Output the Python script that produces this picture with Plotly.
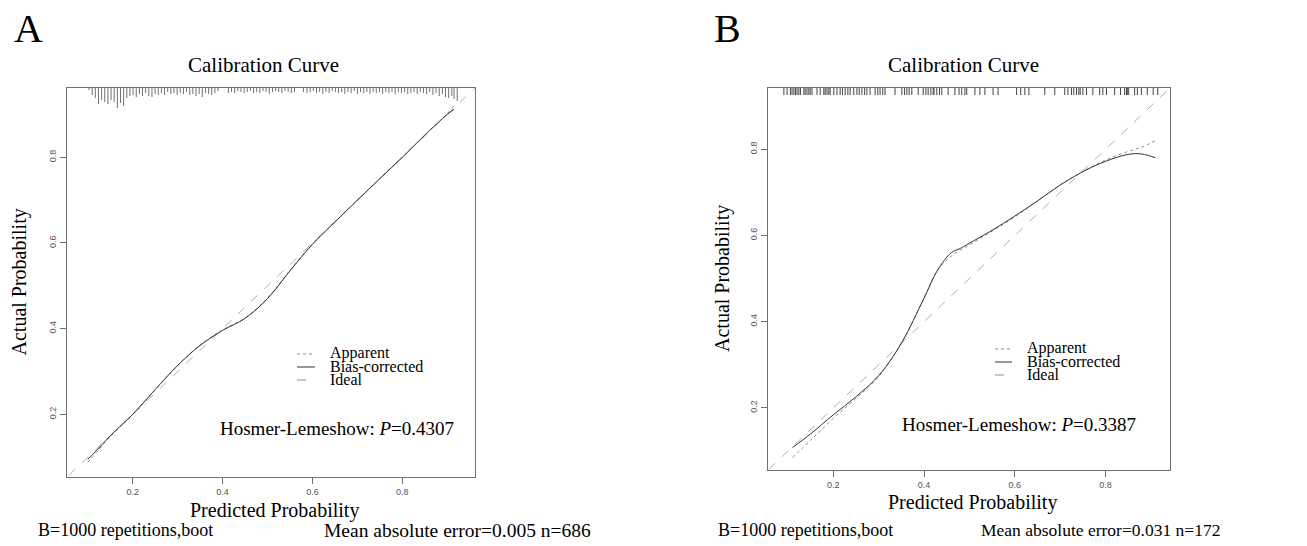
import plotly.graph_objects as go

W, H = 1307, 546

# ---------------- Panel A data ----------------
a_x = [0.10, 0.12, 0.15, 0.20, 0.25, 0.30, 0.35, 0.40, 0.45, 0.50, 0.55, 0.60, 0.65, 0.70, 0.75, 0.80, 0.85, 0.90, 0.915]
a_bias = [0.095, 0.116, 0.150, 0.200, 0.258, 0.314, 0.361, 0.396, 0.424, 0.470, 0.535, 0.597, 0.649, 0.700, 0.750, 0.800, 0.852, 0.900, 0.912]
a_app = [0.088, 0.112, 0.148, 0.199, 0.257, 0.314, 0.362, 0.397, 0.425, 0.472, 0.536, 0.598, 0.649, 0.700, 0.751, 0.800, 0.851, 0.902, 0.920]

a_rug_x = [0.103, 0.110, 0.117, 0.124, 0.131, 0.138, 0.145, 0.152, 0.159, 0.166, 0.173, 0.180, 0.187, 0.194,
           0.201, 0.208, 0.215, 0.222, 0.229, 0.236, 0.243, 0.250, 0.257, 0.264, 0.271, 0.278, 0.285, 0.292,
           0.299, 0.306, 0.313, 0.320, 0.327, 0.334, 0.341, 0.348, 0.355, 0.362, 0.369, 0.376, 0.383, 0.390,
           0.413, 0.420, 0.427, 0.434, 0.441, 0.448, 0.455, 0.462, 0.469, 0.476, 0.483, 0.490, 0.497, 0.504,
           0.511, 0.518, 0.525, 0.532, 0.539, 0.546, 0.553, 0.560, 0.580, 0.588, 0.595, 0.602, 0.609, 0.616,
           0.623, 0.630, 0.637, 0.644, 0.651, 0.658, 0.665, 0.672, 0.679, 0.686, 0.693, 0.700, 0.707, 0.714,
           0.721, 0.728, 0.735, 0.742, 0.749, 0.756, 0.763, 0.770, 0.777, 0.784, 0.791, 0.798, 0.805, 0.812,
           0.819, 0.826, 0.833, 0.840, 0.847, 0.854, 0.861, 0.868, 0.875, 0.882, 0.889, 0.896, 0.903, 0.910,
           0.915, 0.922]
a_rug_n = [2, 7, 10, 16, 12, 14, 16, 12, 14, 20, 15, 18, 10, 8,
           7, 9, 6, 8, 5, 8, 9, 6, 7, 5, 7, 4, 6, 5,
           7, 5, 6, 4, 7, 6, 8, 6, 9, 5, 6, 7, 5, 3,
           5, 4, 5, 3, 4, 5, 4, 3, 5, 4, 5, 3, 4, 6,
           4, 3, 4, 5, 3, 4, 5, 4, 4, 5, 4, 3, 5, 4,
           6, 4, 5, 3, 4, 5, 4, 6, 4, 5, 3, 6, 4, 5,
           4, 6, 4, 5, 4, 6, 4, 5, 4, 6, 4, 5, 4, 6,
           5, 4, 6, 4, 5, 6, 4, 7, 5, 8, 6, 9, 10, 8,
           11, 13]

# ---------------- Panel B data ----------------
b_x = [0.11, 0.15, 0.20, 0.25, 0.30, 0.35, 0.40, 0.43, 0.46, 0.48, 0.50, 0.55, 0.60, 0.65, 0.70, 0.75, 0.80, 0.85, 0.88, 0.91]
b_bias = [0.108, 0.140, 0.184, 0.226, 0.275, 0.350, 0.455, 0.520, 0.560, 0.570, 0.582, 0.612, 0.645, 0.680, 0.717, 0.748, 0.772, 0.788, 0.789, 0.780]
b_app = [0.085, 0.125, 0.176, 0.222, 0.273, 0.350, 0.455, 0.520, 0.552, 0.566, 0.578, 0.610, 0.643, 0.680, 0.717, 0.748, 0.775, 0.795, 0.805, 0.820]

b_rug_x = [0.091, 0.098, 0.1055, 0.109, 0.113, 0.1165, 0.120, 0.124, 0.1275, 0.135, 0.138, 0.142, 0.146, 0.149,
           0.153, 0.164, 0.171, 0.179, 0.182, 0.186, 0.190, 0.193, 0.201, 0.208, 0.215, 0.220, 0.226, 0.232,
           0.237, 0.245, 0.252, 0.257, 0.263, 0.269, 0.274, 0.281, 0.292, 0.298, 0.303, 0.309, 0.314, 0.336,
           0.351, 0.357, 0.362, 0.367, 0.373, 0.387, 0.398, 0.404, 0.409, 0.415, 0.420, 0.422, 0.428, 0.434,
           0.439, 0.453, 0.468, 0.477, 0.483, 0.490, 0.494, 0.512, 0.523, 0.534, 0.552, 0.563, 0.604, 0.613,
           0.622, 0.631, 0.666, 0.688, 0.710, 0.717, 0.725, 0.730, 0.736, 0.741, 0.744, 0.750, 0.758, 0.772,
           0.787, 0.794, 0.802, 0.820, 0.833, 0.842, 0.846, 0.848, 0.851, 0.864, 0.870, 0.879, 0.892, 0.905,
           0.915]

tick_vals = [0.2, 0.4, 0.6, 0.8]
tick_text = ["0.2", "0.4", "0.6", "0.8"]
ideal = [0.0, 1.0]

SERIF = "Liberation Serif"
SANS = "Liberation Sans"

# pixel layout
boxA = dict(l=67, r=475, t=88, b=477)
boxB = dict(l=768, r=1170, t=88, b=470)
rangeA = [0.054, 0.9616]
rangeB = [0.056, 0.942]


def fx(p):
    return p / W


def fy(p):
    return 1 - p / H


def rug(xs, ns, top, unit):
    X, Y = [], []
    for x, n in zip(xs, ns):
        X += [x, x, None]
        Y += [top, top - n * unit, None]
    return X, Y


fig = go.Figure()

# Panel A
rx, ry = rug(a_rug_x, a_rug_n, rangeA[1], 1 / 428.5)
fig.add_trace(go.Scatter(x=rx, y=ry, mode="lines", line=dict(color="#707070", width=1), xaxis="x", yaxis="y", showlegend=False, hoverinfo="skip"))
fig.add_trace(go.Scatter(x=ideal, y=ideal, mode="lines", line=dict(color="#b0b0b0", width=1, dash="dash"), xaxis="x", yaxis="y", showlegend=False))
fig.add_trace(go.Scatter(x=a_x, y=a_app, mode="lines", line=dict(color="#8a8a8a", width=1, dash="dot", shape="spline"), xaxis="x", yaxis="y", showlegend=False))
fig.add_trace(go.Scatter(x=a_x, y=a_bias, mode="lines", line=dict(color="#333", width=1, shape="spline"), xaxis="x", yaxis="y", showlegend=False))

# Panel B
b_rug_n = [7] * len(b_rug_x)
rx, ry = rug(b_rug_x, b_rug_n, rangeB[1], 1 / 430)
fig.add_trace(go.Scatter(x=rx, y=ry, mode="lines", line=dict(color="#444", width=1), xaxis="x2", yaxis="y2", showlegend=False, hoverinfo="skip"))
fig.add_trace(go.Scatter(x=ideal, y=ideal, mode="lines", line=dict(color="#b0b0b0", width=1, dash="dash"), xaxis="x2", yaxis="y2", showlegend=False))
fig.add_trace(go.Scatter(x=b_x, y=b_app, mode="lines", line=dict(color="#8a8a8a", width=1, dash="dot", shape="spline"), xaxis="x2", yaxis="y2", showlegend=False))
fig.add_trace(go.Scatter(x=b_x, y=b_bias, mode="lines", line=dict(color="#333", width=1, shape="spline"), xaxis="x2", yaxis="y2", showlegend=False))

axis_common = dict(showline=True, mirror=True, linecolor="#707070", linewidth=1, showgrid=False, zeroline=False,
                   ticks="outside", ticklen=6, tickcolor="#707070", tickvals=tick_vals, ticktext=tick_text,
                   tickfont=dict(family=SANS, size=9, color="#555"))

fig.update_layout(
    width=W, height=H, autosize=False,
    margin=dict(l=0, r=0, t=0, b=0),
    paper_bgcolor="white", plot_bgcolor="white",
    xaxis=dict(domain=[fx(boxA["l"]), fx(boxA["r"])], range=rangeA, anchor="y", **axis_common),
    yaxis=dict(domain=[fy(boxA["b"]), fy(boxA["t"])], range=rangeA, anchor="x", tickangle=-90, **axis_common),
    xaxis2=dict(domain=[fx(boxB["l"]), fx(boxB["r"])], range=rangeB, anchor="y2", **axis_common),
    yaxis2=dict(domain=[fy(boxB["b"]), fy(boxB["t"])], range=rangeB, anchor="x2", tickangle=-90, **axis_common),
)

ann = []
shapes = []


def text(s, x, y, size, xanchor="center", yanchor="middle", angle=0):
    ann.append(dict(text=s, x=fx(x), y=fy(y), xref="paper", yref="paper", showarrow=False,
                    xanchor=xanchor, yanchor=yanchor, textangle=angle,
                    font=dict(family=SERIF, size=size, color="black")))


panels = [
    dict(letter="A", box=boxA, lx=12, tdx=-8, hl="Hosmer-Lemeshow: <i>P</i>=0.4307", hlx=337, hly=428,
         leg_line_x=(297, 315), leg_text_x=328, leg_y=(353, 366, 379), ylabx=19,
         bot_l=36, bot_r=322, bot_size=18, mae="Mean absolute error=0.005 n=686", mae_size=19.5),
    dict(letter="B", box=boxB, lx=712, tdx=-6, hl="Hosmer-Lemeshow: <i>P</i>=0.3387", hlx=1019, hly=424,
         leg_line_x=(995, 1012), leg_text_x=1025, leg_y=(348, 361, 374), ylabx=722,
         bot_l=716, bot_r=979, bot_size=18, mae="Mean absolute error=0.031 n=172", mae_size=17.5),
]

for p in panels:
    b = p["box"]
    cx = (b["l"] + b["r"]) / 2
    cy = (b["t"] + b["b"]) / 2
    text(p["letter"], p["lx"], 53, 40, xanchor="left", yanchor="bottom")
    text("Calibration Curve", cx + p["tdx"], 65, 21)
    text("Actual Probability", p["ylabx"], cy, 20, angle=-90)
    text("Predicted Probability", cx + 3, b["b"] + 33, 20)
    text("B=1000 repetitions,boot", p["bot_l"], 530, p["bot_size"], xanchor="left")
    text(p["mae"], p["bot_r"], 530, p["mae_size"], xanchor="left")
    text(p["hl"], p["hlx"], p["hly"], 19)
    labels = ["Apparent", "Bias-corrected", "Ideal"]
    styles = [dict(color="#8a8a8a", dash="dot"), dict(color="#333", dash="solid"), dict(color="#909090", dash="dash")]
    for lab, st, yy in zip(labels, styles, p["leg_y"]):
        text(lab, p["leg_text_x"], yy, 16, xanchor="left")
        shapes.append(dict(type="line", xref="paper", yref="paper",
                           x0=fx(p["leg_line_x"][0]), x1=fx(p["leg_line_x"][1]), y0=fy(yy + 1), y1=fy(yy + 1),
                           line=dict(color=st["color"], width=1, dash=st["dash"])))

fig.update_layout(annotations=ann, shapes=shapes)
fig.write_html("out.html", config={"displayModeBar": False},
               post_script="document.body.style.margin='0px';document.body.style.padding='0px';")
